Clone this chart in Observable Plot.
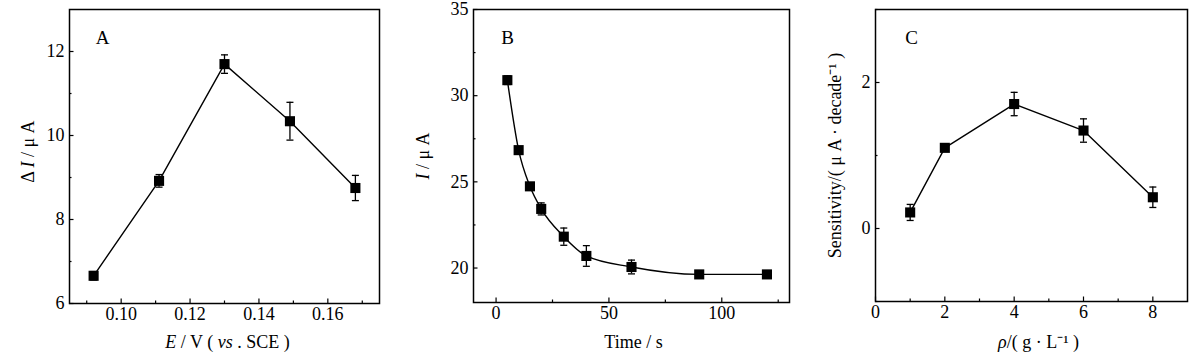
<!DOCTYPE html>
<html>
<head>
<meta charset="utf-8">
<script src="https://cdn.jsdelivr.net/npm/d3@7"></script>
<script src="https://cdn.jsdelivr.net/npm/@observablehq/plot@0.6"></script>
<style>
  html, body { margin: 0; padding: 0; background: #fff; }
  #row { display: flex; width: 1200px; height: 362px; }
  #row > div { width: 400px; height: 362px; }
  #row svg, #row svg text { font-family: "Liberation Serif", "Times New Roman", serif !important; }
</style>
</head>
<body>
<div id="row"><div id="pa"></div><div id="pb"></div><div id="pc"></div></div>
<script>
// ---- Panel A: ΔI vs potential
const potential = [0.092, 0.111, 0.130, 0.149, 0.168];
const deltaI = [6.66, 8.92, 11.70, 10.34, 8.75];
const deltaIErr = [0.10, 0.15, 0.22, 0.45, 0.30];
const aXTicks = [0.10, 0.12, 0.14, 0.16];
const aXMinor = [0.09, 0.11, 0.13, 0.15, 0.17];
const aYTicks = [6, 8, 10, 12];
const aYMinor = [7, 9, 11];

// ---- Panel B: I vs time
const time = [5, 10, 15, 20, 30, 40, 60, 90, 120];
const current = [30.9, 26.84, 24.74, 23.43, 21.82, 20.70, 20.06, 19.63, 19.63];
const currentErr = [0.25, 0.15, 0.15, 0.35, 0.5, 0.6, 0.4, 0.1, 0.1];
const bXTicks = [0, 50, 100];
const bXMinor = [25, 75, 125];
const bYTicks = [20, 25, 30, 35];
const bYMinor = [22.5, 27.5, 32.5];

// ---- Panel C: sensitivity vs concentration
const conc = [1, 2, 4, 6, 8];
const sens = [0.22, 1.105, 1.705, 1.342, 0.428];
const sensErr = [0.11, 0.03, 0.16, 0.16, 0.14];
const cXTicks = [0, 2, 4, 6, 8];
const cXMinor = [1, 3, 5, 7];
const cYTicks = [0, 2];
const cYMinor = [-1, 1, 3];

const capSymbol = {
  draw(context) { context.moveTo(-3.5, 0); context.lineTo(3.5, 0); }
};
const serif = "'Liberation Serif', 'Times New Roman', serif";

function panel(o) {
  const rows = o.xs.map((x, i) => ({x, y: o.ys[i], lo: o.ys[i] - o.err[i], hi: o.ys[i] + o.err[i]}));
  const pw = 400 - o.margin[1] - o.margin[3];
  const ph = 362 - o.margin[0] - o.margin[2];
  const fs = 18;
  const svg = Plot.plot({
    width: 400, height: 362,
    marginTop: o.margin[0], marginRight: o.margin[1], marginBottom: o.margin[2], marginLeft: o.margin[3],
    style: {fontFamily: serif, fontSize: fs + "px", color: "#000", background: "#fff", overflow: "visible"},
    x: {domain: o.xDomain},
    y: {domain: o.yDomain},
    marks: [
      Plot.frame({stroke: "#000", strokeWidth: 1.5}),
      // inward ticks
      Plot.tickX(o.xTicks, {x: d => d, insetTop: ph - 4.5, stroke: "#000", strokeWidth: 1.2}),
      Plot.tickX(o.xMinor, {x: d => d, insetTop: ph - 2.5, stroke: "#000", strokeWidth: 1.2}),
      Plot.tickY(o.yTicks, {y: d => d, insetRight: pw - 4.5, stroke: "#000", strokeWidth: 1.2}),
      Plot.tickY(o.yMinor, {y: d => d, insetRight: pw - 2.5, stroke: "#000", strokeWidth: 1.2}),
      Plot.axisX(o.xTicks, {tickSize: 0, tickPadding: 4, tickFormat: o.xFormat, label: null, fontSize: fs, fontFamily: serif}),
      Plot.axisY(o.yTicks, {tickSize: 0, tickPadding: 5, tickFormat: o.yFormat, label: null, fontSize: fs, fontFamily: serif}),
      // error bars
      Plot.ruleX(rows, {x: "x", y1: "lo", y2: "hi", stroke: "#000", strokeWidth: 1.3}),
      Plot.dot(rows, {x: "x", y: "lo", symbol: capSymbol, stroke: "#000", fill: "none", strokeWidth: 1.3, r: 3}),
      Plot.dot(rows, {x: "x", y: "hi", symbol: capSymbol, stroke: "#000", fill: "none", strokeWidth: 1.3, r: 3}),
      Plot.line(rows, {x: "x", y: "y", stroke: "#000", strokeWidth: 1.4, curve: o.curve}),
      Plot.dot(rows, {x: "x", y: "y", symbol: "square", fill: "#000", r: 5.7}),
      // panel letter
      Plot.text([o.letter], {frameAnchor: "top-left", dx: o.letterDx, dy: 28, text: d => d, fontSize: 19, fontFamily: serif, lineAnchor: "middle", textAnchor: "middle"}),
      // axis titles
      Plot.text([o.xLabel.map(p => p[0]).join("")], {frameAnchor: "bottom", dx: o.xLabelDx, dy: o.xLabelDy, text: d => d, fontSize: fs, fontFamily: serif, lineAnchor: "middle", textAnchor: "middle", className: "xlab"}),
      Plot.text([o.yLabel.map(p => p[0]).join("")], {frameAnchor: "left", dx: o.yLabelDx, dy: o.yLabelDy || 0, rotate: -90, text: d => d, fontSize: fs, fontFamily: serif, lineAnchor: "middle", textAnchor: "middle", className: "ylab"})
    ]
  });
  function rich(cls, parts) {
    d3.select(svg).selectAll(`.${cls} text`).each(function () {
      const t = d3.select(this);
      t.text(null);
      parts.forEach(([s, it]) => t.append("tspan").attr("font-style", it ? "italic" : null).text(s));
    });
  }
  rich("xlab", o.xLabel);
  rich("ylab", o.yLabel);
  document.getElementById(o.id).appendChild(svg);
}

panel({
  id: "pa", xs: potential, ys: deltaI, err: deltaIErr,
  margin: [9, 21, 59, 69],
  xDomain: [0.085, 0.175], yDomain: [6, 13],
  xTicks: aXTicks, xMinor: aXMinor, yTicks: aYTicks, yMinor: aYMinor,
  xFormat: d3.format(".2f"), yFormat: d3.format("d"),
  curve: "linear", letter: "A", letterDx: 33,
  xLabel: [["E", true], [" / V ( ", false], ["vs", true], [" . SCE )", false]], xLabelDx: 3, xLabelDy: 39,
  yLabel: [["Δ ", false], ["I", true], [" / μ A", false]], yLabelDx: -41, yLabelDy: -5
});

panel({
  id: "pb", xs: time, ys: current, err: currentErr,
  margin: [9, 11, 60, 73],
  xDomain: [-10, 130], yDomain: [18, 35],
  xTicks: bXTicks, xMinor: bXMinor, yTicks: bYTicks, yMinor: bYMinor,
  xFormat: d3.format("d"), yFormat: d3.format("d"),
  curve: "monotone-x", letter: "B", letterDx: 34,
  xLabel: [["Time / s", false]], xLabelDx: 2, xLabelDy: 40,
  yLabel: [["I", true], [" / μ A", false]], yLabelDx: -50
});

panel({
  id: "pc", xs: conc, ys: sens, err: sensErr,
  margin: [9, 13, 61, 75],
  xDomain: [0, 9], yDomain: [-1, 3],
  xTicks: cXTicks, xMinor: cXMinor, yTicks: cYTicks, yMinor: cYMinor,
  xFormat: d3.format("d"), yFormat: d3.format("d"),
  curve: "linear", letter: "C", letterDx: 36,
  xLabel: [["ρ", true], ["/( g · L⁻¹ )", false]], xLabelDx: 7, xLabelDy: 41,
  yLabel: [["Sensitivity/( μ A · decade⁻¹ )", false]], yLabelDx: -40
});
</script>
</body>
</html>
